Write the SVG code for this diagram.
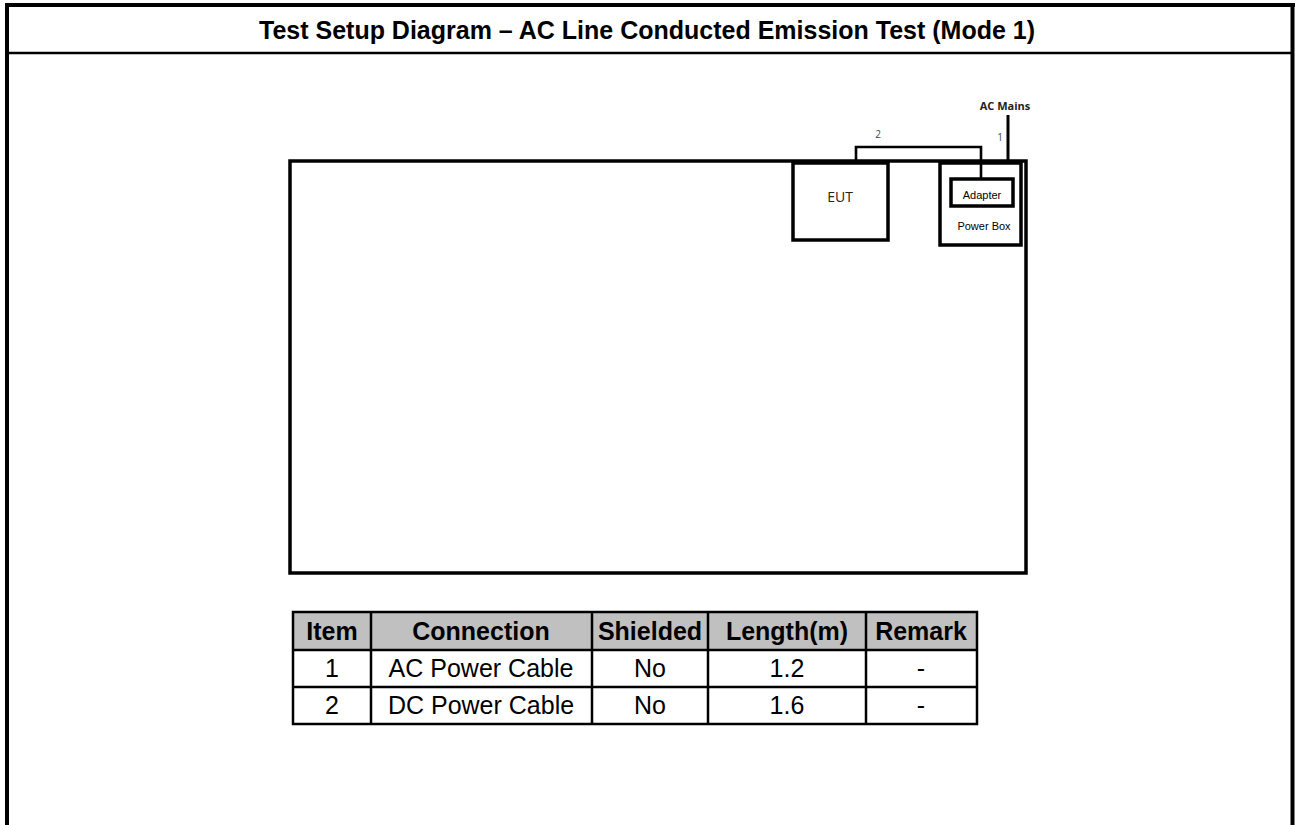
<svg xmlns="http://www.w3.org/2000/svg" width="1295" height="825" viewBox="0 0 1295 825">
<style>
.frame{fill:none;stroke:#000;stroke-width:4}
.box{fill:#fff;stroke:#000;stroke-width:3.5}
.cable{fill:none;stroke:#000;stroke-width:2.6}
.title{font-family:"Liberation Sans",Arial,sans-serif;font-weight:bold;font-size:25px;fill:#000}
.th{font-family:"Liberation Sans",Arial,sans-serif;font-weight:bold;font-size:25px;fill:#000;text-anchor:middle}
.td{font-family:"Liberation Sans",Arial,sans-serif;font-size:25px;fill:#000;text-anchor:middle}
.lbl{font-family:"Open Sans","DejaVu Sans",sans-serif;font-size:14px;fill:#222;text-anchor:middle}
.sm{font-family:"Liberation Sans",Arial,sans-serif;font-size:11px;fill:#000;text-anchor:middle}
.num{font-family:"Open Sans","DejaVu Sans",sans-serif;font-size:10px;fill:#3b4a5c;text-anchor:middle}
.tbl{stroke:#000;stroke-width:2.5;fill:none}
</style>
<rect width="1295" height="825" fill="#fff"/>
<g id="frame">
<line class="frame" x1="5" y1="5" x2="1295" y2="5"/>
<line class="frame" x1="7" y1="3" x2="7" y2="825"/>
<line class="frame" x1="1292.5" y1="3" x2="1292.5" y2="825"/>
<line x1="7" y1="53" x2="1292" y2="53" stroke="#000" stroke-width="2.5"/>
<text class="title" x="647" y="39" text-anchor="middle">Test Setup Diagram – AC Line Conducted Emission Test (Mode 1)</text>
</g>
<g id="table-area">
<rect x="290" y="161" width="736" height="412" fill="none" stroke="#000" stroke-width="3.5"/>
</g>
<g id="eut">
<rect class="box" x="793" y="163" width="95" height="77"/>
<text class="lbl" x="840" y="202">EUT</text>
</g>
<g id="power-box">
<rect class="box" x="940" y="163" width="81" height="82"/>
<text class="sm" x="984" y="230">Power Box</text>
</g>
<g id="adapter">
<rect class="box" x="951" y="179" width="62" height="27"/>
<text class="sm" x="982" y="199">Adapter</text>
</g>
<g id="connectors">
<polyline class="cable" points="856,161 856,147 981,147 981,179"/>
<line x1="1008" y1="115" x2="1008" y2="161" stroke="#000" stroke-width="3"/>
<text class="num" x="878" y="138">2</text>
<text class="num" x="1000" y="141">1</text>
<text x="1005" y="110" font-family="'Open Sans','DejaVu Sans',sans-serif" font-size="11" font-weight="bold" fill="#222" text-anchor="middle">AC Mains</text>
</g>
<g id="cable-table">
<rect x="293" y="612" width="684" height="38" fill="#c0c0c0"/>
<rect class="tbl" x="293" y="612" width="684" height="112"/>
<line class="tbl" x1="293" y1="650" x2="977" y2="650"/>
<line class="tbl" x1="293" y1="687" x2="977" y2="687"/>
<line class="tbl" x1="371" y1="612" x2="371" y2="724"/>
<line class="tbl" x1="592" y1="612" x2="592" y2="724"/>
<line class="tbl" x1="708" y1="612" x2="708" y2="724"/>
<line class="tbl" x1="866" y1="612" x2="866" y2="724"/>
<text class="th" x="332" y="640">Item</text>
<text class="th" x="481" y="640">Connection</text>
<text class="th" x="650" y="640">Shielded</text>
<text class="th" x="787" y="640">Length(m)</text>
<text class="th" x="921" y="640">Remark</text>
<text class="td" x="332" y="677">1</text>
<text class="td" x="481" y="677">AC Power Cable</text>
<text class="td" x="650" y="677">No</text>
<text class="td" x="787" y="677">1.2</text>
<text class="td" x="921" y="677">-</text>
<text class="td" x="332" y="714">2</text>
<text class="td" x="481" y="714">DC Power Cable</text>
<text class="td" x="650" y="714">No</text>
<text class="td" x="787" y="714">1.6</text>
<text class="td" x="921" y="714">-</text>
</g>
</svg>
